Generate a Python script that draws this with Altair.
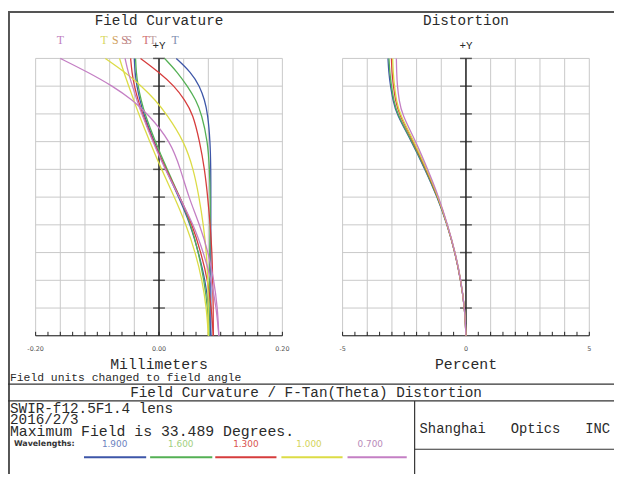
import altair as alt
import pandas as pd

# ---------------- data ----------------
FIELD = [0.0, 0.1, 0.2, 0.3, 0.4, 0.5, 0.6, 0.7, 0.8, 0.85, 0.9, 0.95, 1.0]
WAVES = ["1.900", "1.600", "1.300", "1.000", "0.700"]
COLORS = ["#3d56a8", "#54b054", "#d63c3c", "#dcdc46", "#c47fc4"]
LABEL_COLORS = ["#6b7fc0", "#9fcf80", "#d9534f", "#d4d45a", "#b98ab9"]

# Field curvature (mm), tangential and sagittal, per wavelength
T_1900 = [0.084, 0.084, 0.084, 0.084, 0.084, 0.084, 0.084, 0.083, 0.079, 0.074, 0.066, 0.052, 0.028]
T_1600 = [0.081, 0.081, 0.082, 0.082, 0.083, 0.083, 0.082, 0.079, 0.069, 0.060, 0.046, 0.030, 0.009]
T_1300 = [0.088, 0.088, 0.087, 0.086, 0.083, 0.079, 0.074, 0.066, 0.055, 0.042, 0.025, 0.000, -0.030]
T_1000 = [0.080, 0.080, 0.079, 0.077, 0.072, 0.065, 0.056, 0.041, 0.012, -0.006, -0.028, -0.055, -0.087]
T_0700 = [0.097, 0.095, 0.089, 0.080, 0.066, 0.048, 0.035, 0.019, -0.018, -0.043, -0.075, -0.115, -0.160]

S_1900 = [0.084, 0.081, 0.075, 0.064, 0.051, 0.032, 0.011, -0.008, -0.025, -0.031, -0.036, -0.039, -0.040]
S_1600 = [0.081, 0.079, 0.073, 0.064, 0.052, 0.034, 0.013, -0.006, -0.023, -0.029, -0.034, -0.037, -0.038]
S_1300 = [0.088, 0.085, 0.079, 0.068, 0.054, 0.034, 0.011, -0.009, -0.027, -0.034, -0.040, -0.044, -0.046]
S_1000 = [0.080, 0.077, 0.070, 0.059, 0.044, 0.025, 0.004, -0.015, -0.033, -0.041, -0.049, -0.057, -0.064]
S_0700 = [0.097, 0.093, 0.085, 0.072, 0.056, 0.033, 0.010, -0.010, -0.028, -0.036, -0.043, -0.050, -0.055]

# Distortion (percent) per wavelength
D_1900 = [0.0, -0.05, -0.21, -0.44, -0.76, -1.16, -1.66, -2.20, -2.82, -2.96, -3.06, -3.13, -3.16]
D_1600 = [0.0, -0.05, -0.21, -0.44, -0.75, -1.15, -1.64, -2.18, -2.79, -2.93, -3.02, -3.09, -3.12]
D_1300 = [0.0, -0.05, -0.21, -0.44, -0.75, -1.13, -1.61, -2.13, -2.72, -2.86, -2.94, -3.00, -3.02]
D_1000 = [0.0, -0.05, -0.20, -0.43, -0.75, -1.12, -1.59, -2.10, -2.69, -2.82, -2.90, -2.95, -2.97]
D_0700 = [0.0, -0.05, -0.20, -0.43, -0.74, -1.10, -1.55, -2.03, -2.60, -2.71, -2.78, -2.81, -2.82]

# curve-end labels (T / S) at the top of the field curvature plot
TS_TEXT = ["T", "T", "S", "S", "S", "T", "T", "T"]
TS_X = [-0.160, -0.089, -0.071, -0.056, -0.049, -0.021, -0.010, 0.026]
TS_COLOR = ["#c080c0", "#d8d860", "#d0a060", "#c08080", "#c09090", "#d07070", "#c0a0a0", "#8090b0"]

FC_GRID = [-0.20, -0.16, -0.12, -0.08, -0.04, 0.00, 0.04, 0.08, 0.12, 0.16, 0.20]
FC_TICKS = [-0.20, -0.18, -0.16, -0.14, -0.12, -0.10, -0.08, -0.06, -0.04, -0.02, 0.00,
            0.02, 0.04, 0.06, 0.08, 0.10, 0.12, 0.14, 0.16, 0.18, 0.20]
FC_LABELS = [-0.20, 0.00, 0.20]
FC_LABEL_TEXT = ["-0.20", "0.00", "0.20"]

DI_GRID = [-5, -4, -3, -2, -1, 0, 1, 2, 3, 4, 5]
DI_TICKS = [-5, -4.5, -4, -3.5, -3, -2.5, -2, -1.5, -1, -0.5, 0,
            0.5, 1, 1.5, 2, 2.5, 3, 3.5, 4, 4.5, 5]
DI_LABELS = [-5, 0, 5]
DI_LABEL_TEXT = ["-5", "0", "5"]

F_GRID = [0.0, 0.1, 0.2, 0.3, 0.4, 0.5, 0.6, 0.7, 0.8, 0.9, 1.0]
F_TICKS = [0.1, 0.2, 0.3, 0.4, 0.5, 0.6, 0.7, 0.8, 0.9, 1.0]

# ---------------- tables ----------------
fc_rows = []
for w, t, s in zip(WAVES, [T_1900, T_1600, T_1300, T_1000, T_0700],
                   [S_1900, S_1600, S_1300, S_1000, S_0700]):
    for f, v in zip(FIELD, t):
        fc_rows.append({"wave": w, "curve": w + "T", "field": f, "x": v})
    for f, v in zip(FIELD, s):
        fc_rows.append({"wave": w, "curve": w + "S", "field": f, "x": v})
fc_df = pd.DataFrame(fc_rows)

di_rows = []
for w, d in zip(WAVES, [D_1900, D_1600, D_1300, D_1000, D_0700]):
    for f, v in zip(FIELD, d):
        di_rows.append({"wave": w, "field": f, "x": v})
di_df = pd.DataFrame(di_rows)

ts_df = pd.DataFrame({"t": TS_TEXT, "x": TS_X, "c": TS_COLOR})

one = pd.DataFrame({"a": [0]})

FONT = "Liberation Mono"
TXT = "#2a2a2a"
Y_RANGE = [329, 48]
NB = "\u00a0"


def xs(dom, rng):
    return alt.Scale(domain=dom, range=rng, nice=False, zero=False)


YS = alt.Scale(domain=[0, 1], range=Y_RANGE, nice=False, zero=False)
color_scale = alt.Scale(domain=WAVES, range=COLORS)


def panel(curves_df, grid, ticks, lab_vals, lab_text, dom, rng, tick_size, with_detail):
    sx = xs(dom, rng)
    vgrid = alt.Chart(pd.DataFrame({"x": grid})).mark_rule(color="#c8c8c8", strokeWidth=1).encode(
        x=alt.X("x:Q", scale=sx, axis=None),
        y=alt.Y("y0:Q", scale=YS, axis=None),
        y2="y1:Q",
    ).transform_calculate(y0="0", y1="1")
    hgrid = alt.Chart(pd.DataFrame({"f": F_GRID})).mark_rule(color="#c8c8c8", strokeWidth=1).encode(
        y=alt.Y("f:Q", scale=YS, axis=None),
        x=alt.X("x0:Q", scale=sx, axis=None),
        x2="x1:Q",
    ).transform_calculate(x0=str(dom[0]), x1=str(dom[1]))
    baseline = alt.Chart(one).mark_rule(color="#222", strokeWidth=1.2).encode(
        y=alt.Y("y0:Q", scale=YS, axis=None),
        x=alt.X("x0:Q", scale=sx, axis=None),
        x2="x1:Q",
    ).transform_calculate(y0="0", x0=str(dom[0]), x1=str(dom[1]))
    bticks = alt.Chart(pd.DataFrame({"x": ticks})).mark_rule(color="#222", strokeWidth=1).encode(
        x=alt.X("x:Q", scale=sx, axis=None),
        y=alt.value(Y_RANGE[0]),
        y2=alt.value(Y_RANGE[0] - 4),
    )
    vaxis = alt.Chart(one).mark_rule(color="#222", strokeWidth=1.5).encode(
        x=alt.X("x0:Q", scale=sx, axis=None),
        y=alt.Y("y0:Q", scale=YS, axis=None),
        y2="y1:Q",
    ).transform_calculate(x0="0", y0="0", y1="1")
    vticks = alt.Chart(pd.DataFrame({"f": F_TICKS})).mark_tick(
        orient="horizontal", size=tick_size, thickness=1.5, color="#222"
    ).encode(
        x=alt.X("x0:Q", scale=sx, axis=None),
        y=alt.Y("f:Q", scale=YS, axis=None),
    ).transform_calculate(x0="0")
    plusy = alt.Chart(one).mark_text(text="+Y", font=FONT, fontSize=11, color=TXT).encode(
        x=alt.X("x0:Q", scale=sx, axis=None), y=alt.value(35)
    ).transform_calculate(x0="0")
    labs = alt.Chart(pd.DataFrame({"x": lab_vals, "t": lab_text})).mark_text(
        font="DejaVu Sans", fontSize=6.5, color="#555"
    ).encode(
        x=alt.X("x:Q", scale=sx, axis=None), y=alt.value(342), text="t:N"
    )
    enc = dict(
        x=alt.X("x:Q", scale=sx, axis=None),
        y=alt.Y("field:Q", scale=YS, axis=None),
        color=alt.Color("wave:N", scale=color_scale, legend=None),
        order=alt.Order("field:Q"),
    )
    if with_detail:
        enc["detail"] = "curve:N"
    lines = alt.Chart(curves_df).mark_line(
        interpolate="basis", strokeWidth=1.3
    ).encode(**enc)
    return [vgrid, hgrid, baseline, bticks, vaxis, vticks, plusy, labs, lines]


left = panel(fc_df, FC_GRID, FC_TICKS, FC_LABELS, FC_LABEL_TEXT, [-0.2, 0.2], [28, 278], 12, True)
right = panel(di_df, DI_GRID, DI_TICKS, DI_LABELS, DI_LABEL_TEXT, [-5, 5], [339, 589], 12, False)

ts_layer = alt.Chart(ts_df).mark_text(font="Liberation Serif", fontSize=12).encode(
    x=alt.X("x:Q", scale=xs([-0.2, 0.2], [28, 278]), axis=None),
    y=alt.value(29),
    text="t:N",
    color=alt.Color("c:N", scale=None, legend=None),
)


def txt(s, x, y, size=14, align="center", font=FONT, color=TXT, weight="normal"):
    return alt.Chart(one).mark_text(
        text=s, font=font, fontSize=size, align=align, baseline="middle",
        color=color, fontWeight=weight
    ).encode(x=alt.value(x), y=alt.value(y))


def hline(x1, x2, y, color="#333", w=1.2):
    return alt.Chart(one).mark_rule(color=color, strokeWidth=w).encode(
        x=alt.value(x1), x2=alt.value(x2), y=alt.value(y)
    )


def vline(x, y1, y2, color="#333", w=1.2):
    return alt.Chart(one).mark_rule(color=color, strokeWidth=w).encode(
        x=alt.value(x), y=alt.value(y1), y2=alt.value(y2)
    )


decor = [
    hline(0, 614, 1, "#555", 2),
    vline(1, 0, 469, "#555", 2),
    txt("Field Curvature", 153, 10, 14.5),
    txt("Distortion", 464, 10, 14.5),
    txt("Millimeters", 153, 358, 15),
    txt("Percent", 464, 358, 15),
    txt("Field units changed to field angle", 2, 372, 11.5, "left"),
    hline(0, 614, 378),
    txt("Field Curvature / F-Tan(Theta) Distortion", 302, 387, 14.5),
    hline(0, 614, 395),
    vline(412, 395, 469),
    txt("SWIR-f12.5F1.4 lens", 2, 403, 14.5, "left"),
    txt("2016/2/3", 2, 414, 14.5, "left"),
    txt("Maximum Field is 33.489 Degrees.", 2, 425.5, 15, "left"),
    txt("Wavelengths:", 6, 439, 8, "left", "DejaVu Sans", "#333", "bold"),
    txt("Shanghai" + NB * 3 + "Optics" + NB * 3 + "INC", 417, 424, 14, "left"),
    hline(412, 614, 444),
]

wl_x = [108, 175, 241, 305, 367]
wl_seg = [(77, 140), (144, 207), (210, 272), (277, 339), (344, 404)]
for w, c, lc, xx, (a, b) in zip(WAVES, COLORS, LABEL_COLORS, wl_x, wl_seg):
    decor.append(txt(w, xx, 439, 9, "center", "DejaVu Sans", lc))
    decor.append(hline(a, b, 452, c, 2))

chart = alt.layer(*left, *right, ts_layer, *decor).resolve_scale(
    x="independent", y="independent"
).properties(
    width=614, height=469, padding=0,
    autosize=alt.AutoSizeParams(type="none"),
    background="white",
).configure_view(stroke=None)

chart.save("out.html", embed_options={"renderer": "svg", "actions": False})
